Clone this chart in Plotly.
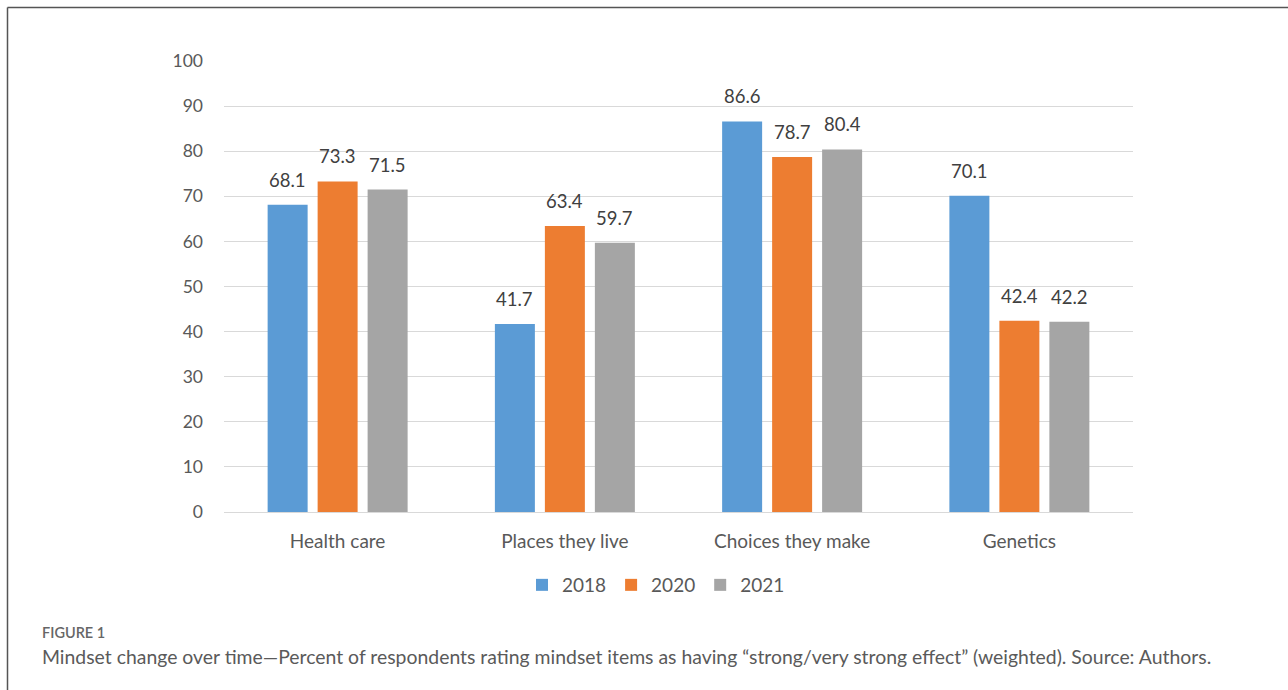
import plotly.graph_objects as go

categories = ["Health care", "Places they live", "Choices they make", "Genetics"]
years = ["2018", "2020", "2021"]
values_2018 = [68.1, 41.7, 86.6, 70.1]
values_2020 = [73.3, 63.4, 78.7, 42.4]
values_2021 = [71.5, 59.7, 80.4, 42.2]
colors = ["#5B9BD5", "#ED7D31", "#A5A5A5"]
series = [values_2018, values_2020, values_2021]

W, H = 1288, 690
L, R, T, B = 224, 155, 61, 178
pw, ph = W - L - R, H - T - B

font_fam = "Lato, 'Open Sans', sans-serif"

fig = go.Figure()
for yr, vals, col in zip(years, series, colors):
    fig.add_trace(go.Bar(x=categories, y=vals, name=yr, marker=dict(color=col, line=dict(width=0))))

# data labels
slot = pw / len(categories) * (1 - 0.34) / 3
for i, vals in enumerate(series):
    for c, v in zip(categories, vals):
        fig.add_annotation(x=c, y=v, text=f"{v:.1f}", showarrow=False, xref="x", yref="y",
                           xshift=(i - 1) * slot, yshift=12, yanchor="bottom",
                           font=dict(family=font_fam, size=18.5, color="#404040"))

def px(xpix):
    return (xpix - L) / pw

def py(ypix):
    return (H - B - ypix) / ph

# frame
fig.add_shape(type="line", xref="paper", yref="paper", x0=px(7.5), x1=px(W + 5), y0=py(7.5), y1=py(7.5),
              line=dict(color="#555555", width=1.5))
fig.add_shape(type="line", xref="paper", yref="paper", x0=px(7.5), x1=px(7.5), y0=py(7.5), y1=py(H + 5),
              line=dict(color="#555555", width=1.5))

# caption
fig.add_annotation(xref="paper", yref="paper", x=px(40), y=py(632), xanchor="left", yanchor="middle",
                   text="FIGURE 1", showarrow=False,
                   font=dict(family=font_fam, size=14.5, color="#666666", weight=600))
fig.add_annotation(xref="paper", yref="paper", x=px(40), y=py(656), xanchor="left", yanchor="middle",
                   text="Mindset change over time\u2014Percent of respondents rating mindset items as having \u201cstrong/very strong effect\u201d (weighted). Source: Authors.",
                   showarrow=False, font=dict(family=font_fam, size=19.4, color="#5a5a5a"))

fig.update_layout(
    width=W, height=H,
    margin=dict(l=L, r=R, t=T, b=B, pad=0),
    paper_bgcolor="white", plot_bgcolor="white",
    barmode="group", bargap=0.34, bargroupgap=0.2,
    font=dict(family=font_fam, size=17, color="#595959"),
    showlegend=True,
    legend=dict(orientation="h", x=px(656), xanchor="center", y=py(585), yanchor="middle",
                font=dict(size=19, color="#595959"), itemwidth=30, traceorder="normal"),
    yaxis=dict(range=[0, 100], dtick=10, showgrid=True, gridcolor="#D9D9D9", gridwidth=1,
               zeroline=True, zerolinecolor="#D9D9D9", zerolinewidth=1, ticks="",
               ticklabelstandoff=20, tickfont=dict(size=17.5, color="#595959"), showline=False),
    xaxis=dict(showgrid=False, ticks="", showline=False, tickfont=dict(size=19, color="#595959"),
               ticklabelstandoff=16),
)

fig.write_html("out.html")
